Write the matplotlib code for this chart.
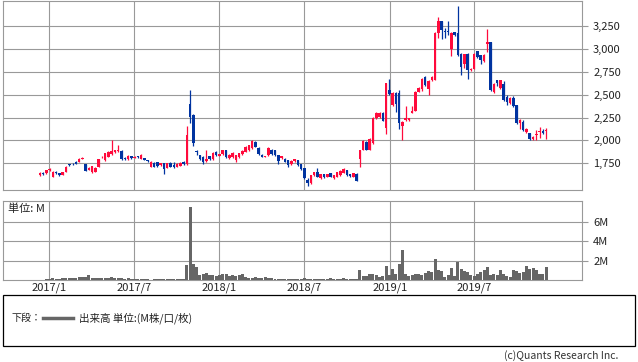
"""Weekly candlestick chart with volume panel (Quants Research style)"""

import numpy as np
import pandas as pd
import matplotlib
matplotlib.use('Agg')
import matplotlib.pyplot as plt
import matplotlib.dates as mdates
from matplotlib.lines import Line2D
from matplotlib.patches import Rectangle

plt.rcParams['font.family'] = ['Noto Sans CJK JP', 'DejaVu Sans']
plt.rcParams['font.size'] = 8

# weekly bars, first week starts 2016-12-12
first_week = '2016-12-12'

opens = [1618, 1645, 1640, 1678, 1605, 1655, 1640, 1622, 1660, 1735,
         1745, 1760, 1765, 1800, 1740, 1680, 1650, 1660, 1713, 1815,
         1785, 1822, 1850, 1870, 1880, 1887, 1810, 1795, 1828, 1810,
         1825, 1800, 1805, 1785, 1713, 1755, 1760, 1730, 1749, 1700,
         1755, 1730, 1712, 1720, 1765, 1738, 2403, 2276, 1880, 1840,
         1820, 1775, 1828, 1792, 1875, 1830, 1850, 1893, 1803, 1815,
         1785, 1815, 1850, 1875, 1893, 1912, 1985, 1912, 1840, 1820,
         1840, 1900, 1895, 1840, 1805, 1800, 1785, 1742, 1770, 1785,
         1740, 1695, 1567, 1530, 1620, 1650, 1585, 1630, 1605, 1640,
         1585, 1605, 1620, 1648, 1675, 1628, 1605, 1635, 1792, 1894,
         1985, 1894, 1967, 2240, 2255, 2300, 2141, 2548, 2385, 2520,
         2519, 2156, 2220, 2220, 2300, 2323, 2530, 2560, 2693, 2560,
         2657, 2664, 3173, 3304, 3200, 3200, 3002, 3184, 3177, 2948,
         2831, 2948, 2766, 2784, 2973, 2930, 2864, 3049, 3075, 2530,
         2657, 2577, 2620, 2475, 2410, 2465, 2385, 2192, 2203, 2094,
         2076, 2020, 2055, 2090, 2105, 2100]
closes = [1647, 1632, 1672, 1690, 1655, 1640, 1625, 1655, 1712, 1730,
          1738, 1745, 1800, 1810, 1670, 1700, 1715, 1700, 1795, 1822,
          1858, 1875, 1882, 1890, 1892, 1795, 1800, 1835, 1805, 1822,
          1818, 1845, 1790, 1770, 1767, 1713, 1715, 1748, 1683, 1749,
          1710, 1705, 1742, 1755, 1740, 2058, 2257, 1974, 1870, 1792,
          1767, 1800, 1792, 1865, 1840, 1850, 1893, 1815, 1840, 1865,
          1840, 1858, 1887, 1930, 1948, 1995, 1930, 1850, 1820, 1830,
          1912, 1850, 1840, 1778, 1830, 1765, 1730, 1778, 1795, 1730,
          1686, 1585, 1538, 1620, 1650, 1605, 1632, 1597, 1630, 1605,
          1620, 1650, 1668, 1685, 1620, 1610, 1640, 1560, 1894, 1996,
          1900, 2020, 2250, 2300, 2300, 2214, 2628, 2505, 2520, 2403,
          2185, 2203, 2250, 2240, 2323, 2530, 2577, 2670, 2603, 2650,
          2693, 3173, 3304, 3209, 3180, 3190, 3177, 3148, 2930, 2802,
          2940, 2766, 2784, 2948, 2911, 2875, 2937, 3075, 2548, 2620,
          2628, 2657, 2439, 2421, 2465, 2374, 2192, 2228, 2112, 2130,
          2020, 2040, 2065, 2100, 2085, 2115]
highs = [1655, 1660, 1678, 1700, 1662, 1668, 1648, 1660, 1718, 1742,
         1750, 1770, 1805, 1815, 1745, 1710, 1718, 1705, 1800, 1830,
         1862, 1880, 2000, 1900, 1950, 1895, 1815, 1838, 1835, 1828,
         1830, 1848, 1810, 1790, 1770, 1760, 1765, 1752, 1752, 1752,
         1768, 1765, 1748, 1760, 1772, 2160, 2555, 2285, 1895, 1845,
         1825, 1895, 1835, 1870, 1880, 1855, 1898, 1898, 1850, 1870,
         1845, 1862, 1892, 1935, 1952, 2000, 1992, 1930, 1850, 1835,
         1930, 1905, 1900, 1845, 1835, 1805, 1790, 1782, 1800, 1790,
         1745, 1700, 1585, 1625, 1655, 1695, 1636, 1635, 1636, 1645,
         1625, 1655, 1672, 1700, 1680, 1632, 1645, 1640, 1900, 2000,
         1995, 2025, 2260, 2310, 2305, 2305, 2630, 2675, 2525, 2530,
         2555, 2210, 2374, 2250, 2374, 2535, 2580, 2680, 2700, 2655,
         2700, 3180, 3347, 3310, 3230, 3304, 3180, 3190, 3464, 2950,
         2945, 2950, 2790, 2952, 2980, 2935, 2940, 3220, 3080, 2625,
         2665, 2660, 2650, 2500, 2470, 2480, 2390, 2235, 2220, 2135,
         2080, 2045, 2110, 2150, 2120, 2140]
lows = [1610, 1625, 1635, 1670, 1598, 1632, 1612, 1618, 1655, 1722,
        1730, 1738, 1760, 1795, 1665, 1675, 1645, 1655, 1710, 1810,
        1780, 1818, 1845, 1862, 1875, 1790, 1790, 1790, 1800, 1805,
        1812, 1795, 1785, 1765, 1705, 1708, 1705, 1720, 1632, 1695,
        1705, 1695, 1708, 1715, 1735, 1735, 2185, 1937, 1840, 1785,
        1740, 1767, 1785, 1785, 1835, 1825, 1845, 1810, 1795, 1810,
        1767, 1810, 1845, 1870, 1888, 1905, 1925, 1845, 1815, 1815,
        1835, 1845, 1835, 1742, 1800, 1760, 1712, 1735, 1765, 1725,
        1680, 1580, 1502, 1525, 1615, 1600, 1580, 1590, 1600, 1600,
        1580, 1600, 1615, 1642, 1615, 1605, 1600, 1555, 1712, 1890,
        1895, 1890, 1960, 2235, 2250, 2210, 2075, 2500, 2380, 2312,
        2120, 2003, 2215, 2215, 2295, 2318, 2525, 2540, 2598, 2494,
        2650, 2655, 3122, 3110, 3120, 3150, 2920, 3140, 2925, 2712,
        2790, 2675, 2760, 2780, 2900, 2830, 2860, 2966, 2540, 2520,
        2600, 2560, 2430, 2390, 2400, 2360, 2175, 2130, 2105, 2080,
        2000, 2000, 2000, 2030, 2070, 2020]

# volume in millions
volume = [0.05, 0.05, 0.15, 0.1, 0.2, 0.15, 0.1, 0.2, 0.25, 0.2,
          0.2, 0.25, 0.3, 0.3, 0.3, 0.5, 0.2, 0.25, 0.2, 0.2,
          0.25, 0.2, 0.3, 0.25, 0.2, 0.2, 0.15, 0.2, 0.15, 0.15,
          0.1, 0.15, 0.1, 0.1, 0.05, 0.1, 0.1, 0.15, 0.1, 0.1,
          0.1, 0.15, 0.1, 0.1, 0.1, 1.6, 7.6, 1.7, 1.4, 0.5,
          0.6, 0.7, 0.5, 0.5, 0.4, 0.5, 0.6, 0.6, 0.4, 0.5,
          0.4, 0.5, 0.6, 0.3, 0.2, 0.2, 0.3, 0.2, 0.2, 0.3,
          0.2, 0.2, 0.15, 0.1, 0.1, 0.15, 0.1, 0.1, 0.1, 0.1,
          0.15, 0.2, 0.15, 0.1, 0.1, 0.1, 0.15, 0.1, 0.15, 0.2,
          0.15, 0.1, 0.15, 0.2, 0.15, 0.15, 0.1, 0.15, 1.0, 0.4,
          0.4, 0.6, 0.6, 0.5, 0.3, 0.4, 1.45, 0.5, 1.1, 0.6,
          1.65, 3.1, 0.6, 0.4, 0.5, 0.6, 0.6, 0.5, 0.7, 0.9,
          0.8, 2.2, 1.0, 0.9, 0.3, 0.5, 1.2, 0.4, 1.9, 1.1,
          0.9, 0.8, 0.5, 0.4, 0.6, 0.8, 1.0, 1.4, 0.5, 0.6,
          0.5, 1.0, 0.6, 0.4, 0.3, 1.0, 0.9, 0.7, 0.8, 1.5,
          1.1, 1.2, 1.0, 0.6, 0.6, 1.3]

price_ticks = [1750, 2000, 2250, 2500, 2750, 3000, 3250]
volume_ticks = [2, 4, 6]
date_ticks = ['2017-01-01', '2017-07-01', '2018-01-01',
              '2018-07-01', '2019-01-01', '2019-07-01']
date_labels = ['2017/1', '2017/7', '2018/1', '2018/7', '2019/1', '2019/7']

UP = '#ff0a3c'
DOWN = '#0033a0'
GRID = '#999999'
VOL = '#666666'

W, H = 638, 362


def style_axes(ax):
    ax.set_facecolor('white')
    for sp in ax.spines.values():
        sp.set_color(GRID)
        sp.set_linewidth(0.8)
    ax.grid(True, color=GRID, linewidth=0.8)
    ax.set_axisbelow(True)
    ax.yaxis.tick_right()
    ax.tick_params(axis='y', length=4, width=0.8, color=GRID, pad=4,
                   labelsize=8, labelcolor='#222222')


fig = plt.figure(figsize=(W / 100, H / 100), dpi=100)

o = np.array(opens)
c = np.array(closes)
x = mdates.date2num(pd.date_range(first_week, periods=len(o), freq='7D').to_pydatetime())
xlim = (mdates.date2num(pd.Timestamp('2016-09-24')), mdates.date2num(pd.Timestamp('2020-02-17')))
xt = mdates.date2num(pd.to_datetime(date_ticks).to_pydatetime())

cols = np.where(c >= o, UP, DOWN)

# price panel
ax = fig.add_axes((3 / W, 1 - 190 / H, 579 / W, 189.5 / H))
style_axes(ax)
ax.vlines(x, lows, highs, colors=cols, linewidth=0.9, zorder=2)
body = np.maximum(np.abs(c - o), 8)
ax.bar(x, body, bottom=np.minimum(o, c), width=5.4, color=cols, linewidth=0, zorder=3)
ax.set_xlim(*xlim)
ax.set_ylim(1458, 3529)
ax.set_yticks(price_ticks)
ax.set_yticklabels([f'{v:,}' for v in price_ticks])
ax.set_xticks(xt)
ax.tick_params(axis='x', length=0, labelbottom=False)

# volume panel
ax2 = fig.add_axes((3 / W, 1 - 280 / H, 579 / W, 79 / H))
style_axes(ax2)
ax2.bar(x, volume, width=6.4, color=VOL, linewidth=0, zorder=3)
ax2.set_xlim(*xlim)
ax2.set_ylim(0, 8.2)
ax2.set_yticks(volume_ticks)
ax2.set_yticklabels([f'{v}M' for v in volume_ticks])
ax2.set_xticks(xt)
ax2.set_xticklabels(date_labels)
ax2.tick_params(axis='x', length=0, pad=2, labelsize=8, labelcolor='#222222')
ax2.text(0.008, 0.9, '単位: M', transform=ax2.transAxes, va='center', ha='left',
         fontsize=8, color='#222222')

# legend box
fig.patches.append(Rectangle((3 / W, 1 - 346 / H), 632 / W, 51 / H, fill=False,
                             edgecolor='black', linewidth=0.9, transform=fig.transFigure))
ly = 1 - 318 / H
fig.text(12 / W, ly, '下段：', va='center', ha='left', fontsize=7.2, color='#222222')
fig.lines.append(Line2D([43 / W, 73 / W], [ly, ly], color=VOL, linewidth=2.5,
                        transform=fig.transFigure))
fig.text(79 / W, ly, '出来高 単位:(M株/口/枚)', va='center', ha='left', fontsize=7.6,
         color='#222222')

fig.text(618 / W, 1 - 356 / H, '(c)Quants Research Inc.', va='center', ha='right',
         fontsize=7.5, color='#333333')

fig.savefig('out.png', dpi=100)
plt.close(fig)
